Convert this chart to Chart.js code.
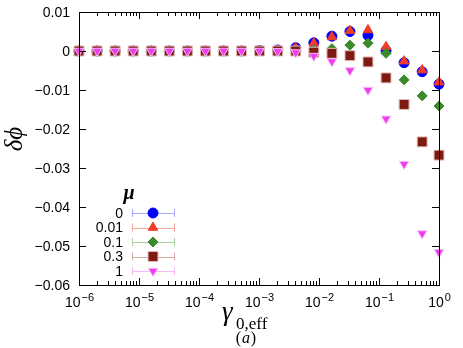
<!DOCTYPE html>
<html>
<head>
<meta charset="utf-8">
<script src="https://cdn.jsdelivr.net/npm/chart.js@4/dist/chart.umd.min.js"></script>
<style>
  html, body { margin: 0; padding: 0; background: #fff; }
  #wrap { width: 463px; height: 348px; }
</style>
</head>
<body>
<div id="wrap"><canvas id="plot" width="463" height="348"></canvas></div>
<script>
// gamma_0,eff values (x)
var gammas = [1e-6, 2e-6, 4e-6, 8e-6, 1.6e-5, 3.2e-5, 6.4e-5, 1.28e-4, 2.56e-4, 5.12e-4,
  1.02e-3, 2.05e-3, 4.1e-3, 8.2e-3, 0.0164, 0.0328, 0.0655, 0.131, 0.262, 0.524, 1.0];

// delta phi for each mu
var mu0    = [0, 0, 0, 0, 0, 0, 0, 0, 0, 0, 0.0001, 0.00025, 0.00085, 0.0021, 0.0038, 0.0050, 0.0040, 0.0001, -0.0030, -0.0053, -0.0085];
var mu001  = [0, 0, 0, 0, 0, 0, 0, 0, 0, 0, 0.0001, 0.0002, 0.0008, 0.0020, 0.0036, 0.0052, 0.0054, 0.0011, -0.0026, -0.0049, -0.0080];
var mu01   = [0, 0, 0, 0, 0, 0, 0, 0, 0, 0, 0, 0.0001, 0.0002, 0.0003, 0.0006, 0.0015, 0.0020, -0.0006, -0.0074, -0.0115, -0.0141];
var mu03   = [0, 0, 0, 0, 0, 0, 0, 0, 0, 0, 0, 0, 0, -0.0003, -0.0006, -0.0012, -0.0028, -0.0069, -0.0137, -0.0233, -0.0267];
var mu1    = [0, 0, 0, 0, 0, 0, 0, 0, 0, 0, 0, -0.0001, -0.0004, -0.0013, -0.0027, -0.0050, -0.0100, -0.0174, -0.0290, -0.0468, -0.0516];

var muLabels = ['0', '0.01', '0.1', '0.3', '1'];
var yTicks = [-0.06, -0.05, -0.04, -0.03, -0.02, -0.01, 0, 0.01];
var yTickLabels = ['\u22120.06', '\u22120.05', '\u22120.04', '\u22120.03', '\u22120.02', '\u22120.01', '0', '0.01'];
var xDecades = [-6, -5, -4, -3, -2, -1, 0];

// look of each series
var markColors = ['#0000ff', '#f03c28', '#3c8a2c', '#7e1a10', '#f03cf0'];
var barColors = ['#a8a8ff', '#f4a69c', '#a8d09c', '#d4aaa4', '#f8b8f8'];
var edgeColors = ['#0000ff', '#f03c28', '#3c8a2c', '#e0b8b4', '#f8c0f8'];
var shapes = ['circle', 'triangle', 'rectRot', 'rect', 'triangle'];
var radii = [5, 5.5, 5, 7, 5.5];
var rotations = [0, 0, 0, 0, 180];

function toPoints(ys) {
    var pts = [];
    for (let i = 0; i < gammas.length; i++) {
        pts.push({ x: gammas[i], y: ys[i] });
    }
    return pts;
}

function buildDatasets() {
    var all = [mu0, mu001, mu01, mu03, mu1];
    var sets = [];
    for (let i = 0; i < all.length; i++) {
        sets.push({
            label: muLabels[i],
            data: toPoints(all[i]),
            pointStyle: shapes[i],
            pointRadius: radii[i],
            pointRotation: rotations[i],
            backgroundColor: markColors[i],
            borderColor: edgeColors[i],
            borderWidth: 1,
            showLine: false,
            clip: false,
            order: 5 - i   // later series drawn on top
        });
    }
    return sets;
}

var framePlugin = {
    id: 'frame',
    afterDatasetsDraw(chart) {
        var ctx = chart.ctx;
        var a = chart.chartArea;
        var xs = chart.scales.x;
        var ys = chart.scales.y;
        ctx.save();
        ctx.strokeStyle = '#000';
        ctx.lineWidth = 1;
        ctx.strokeRect(a.left + 0.5, a.top + 0.5, a.right - a.left, a.bottom - a.top);

        ctx.beginPath();
        // x ticks, major and minor, bottom and top
        for (let d = 0; d < xDecades.length; d++) {
            let n = xDecades[d];
            for (let m = 1; m <= 9; m++) {
                if (n == 0 && m > 1) break;
                let px = Math.round(xs.getPixelForValue(m * Math.pow(10, n))) + 0.5;
                let len = m == 1 ? 7 : 4;
                ctx.moveTo(px, a.bottom);
                ctx.lineTo(px, a.bottom - len);
                ctx.moveTo(px, a.top);
                ctx.lineTo(px, a.top + len);
            }
        }
        // y ticks, left and right
        for (let i = 0; i < yTicks.length; i++) {
            let py = Math.round(ys.getPixelForValue(yTicks[i])) + 0.5;
            ctx.moveTo(a.left, py);
            ctx.lineTo(a.left + 7, py);
            ctx.moveTo(a.right, py);
            ctx.lineTo(a.right - 7, py);
        }
        ctx.stroke();
        ctx.restore();
    },
    afterDraw(chart) {
        var ctx = chart.ctx;
        var a = chart.chartArea;
        var xs = chart.scales.x;
        var ys = chart.scales.y;
        ctx.save();
        ctx.fillStyle = '#000';

        // y tick labels
        ctx.font = '14px "Liberation Sans", Arial, sans-serif';
        ctx.textAlign = 'right';
        ctx.textBaseline = 'middle';
        for (let i = 0; i < yTicks.length; i++) {
            ctx.fillText(yTickLabels[i], a.left - 9, ys.getPixelForValue(yTicks[i]) + 1);
        }

        // x tick labels 10^n
        ctx.textAlign = 'left';
        ctx.textBaseline = 'alphabetic';
        for (let d = 0; d < xDecades.length; d++) {
            let n = xDecades[d];
            let base = '10';
            let exp = n == 0 ? '0' : '\u2212' + Math.abs(n);
            ctx.font = '14px "Liberation Sans", Arial, sans-serif';
            let wb = ctx.measureText(base).width;
            ctx.font = '11px "Liberation Sans", Arial, sans-serif';
            let we = ctx.measureText(exp).width;
            let px = xs.getPixelForValue(Math.pow(10, n));
            let x0 = px - (wb + we) / 2;
            ctx.font = '14px "Liberation Sans", Arial, sans-serif';
            ctx.fillText(base, x0, a.bottom + 21.5);
            ctx.font = '11px "Liberation Sans", Arial, sans-serif';
            ctx.fillText(exp, x0 + wb + 1, a.bottom + 16);
        }

        // y axis title
        ctx.save();
        ctx.translate(22, 139);
        ctx.rotate(-Math.PI / 2);
        ctx.font = 'italic 25px "Liberation Serif", "Times New Roman", serif';
        ctx.textAlign = 'center';
        ctx.fillText('\u03b4\u03d5', 0, 0);
        ctx.restore();

        // x axis title
        ctx.font = 'italic 27px "Liberation Serif", "Times New Roman", serif';
        ctx.textAlign = 'left';
        ctx.fillText('\u03b3', 222, 320);
        ctx.font = '17px "Liberation Serif", "Times New Roman", serif';
        ctx.fillText('0,eff', 236, 329);
        ctx.font = '16px "Liberation Serif", "Times New Roman", serif';
        ctx.textAlign = 'center';
        ctx.fillText('(', 238.5, 343);
        ctx.fillText(')', 253.5, 343);
        ctx.font = 'italic 16px "Liberation Serif", "Times New Roman", serif';
        ctx.fillText('a', 246, 343);

        // legend
        ctx.font = 'bold italic 20px "Liberation Serif", "Times New Roman", serif';
        ctx.textAlign = 'center';
        ctx.textBaseline = 'middle';
        ctx.fillText('\u03bc', 129, 194);
        var rowY = [213, 227.5, 242, 256.5, 271];
        for (let i = 0; i < muLabels.length; i++) {
            let y = rowY[i];
            ctx.font = '14px "Liberation Sans", Arial, sans-serif';
            ctx.textAlign = 'right';
            ctx.fillStyle = '#000';
            ctx.fillText(muLabels[i], 123, y + 1);
            ctx.strokeStyle = barColors[i];
            ctx.lineWidth = 1;
            ctx.beginPath();
            ctx.moveTo(132, Math.round(y) + 0.5);
            ctx.lineTo(175, Math.round(y) + 0.5);
            ctx.moveTo(132.5, y - 4);
            ctx.lineTo(132.5, y + 4);
            ctx.moveTo(174.5, y - 4);
            ctx.lineTo(174.5, y + 4);
            ctx.stroke();
            ctx.fillStyle = markColors[i];
            ctx.strokeStyle = edgeColors[i];
            Chart.helpers.drawPoint(ctx, {
                pointStyle: shapes[i],
                rotation: rotations[i],
                radius: radii[i],
                borderWidth: 1
            }, 153, y);
        }
        ctx.restore();
    }
};

var chart = new Chart(document.getElementById('plot'), {
    type: 'scatter',
    data: { datasets: buildDatasets() },
    options: {
        responsive: false,
        animation: false,
        layout: { padding: { top: 12, right: 24, left: 0, bottom: 0 } },
        plugins: {
            legend: { display: false },
            tooltip: { enabled: false }
        },
        scales: {
            x: {
                type: 'logarithmic',
                min: 1e-6,
                max: 1,
                ticks: { display: false },
                grid: { display: false },
                border: { display: false },
                afterFit: function (scale) { scale.height = 63; }
            },
            y: {
                type: 'linear',
                min: -0.06,
                max: 0.01,
                ticks: { display: false },
                grid: { display: false },
                border: { display: false },
                afterFit: function (scale) { scale.width = 79; }
            }
        }
    },
    plugins: [framePlugin]
});
</script>
</body>
</html>
